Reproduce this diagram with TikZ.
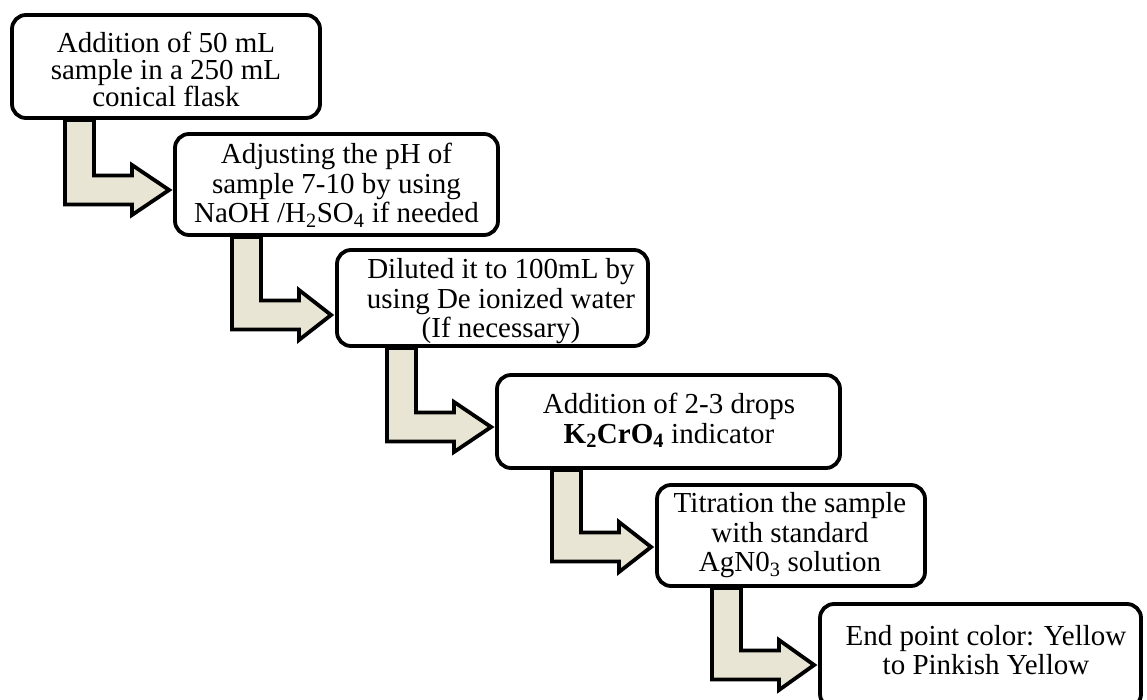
\documentclass[tikz,border=0pt]{standalone}
\usepackage{fontspec}
\setmainfont{Liberation Serif}
\usetikzlibrary{backgrounds,calc}
\definecolor{stepfill}{RGB}{233,229,213}
\tikzset{
  stepbox/.style={draw=black, line width=3.8pt, rounded corners=14pt, fill=white, inner sep=0pt},
  steptext/.style={align=center, inner sep=0pt, font=\fontsize{29}{29.5}\selectfont},
  flowarrow/.style={draw=black, line width=3.8pt, fill=stepfill, line join=miter},
}
% Bent block arrow: leaves the bottom of box #1, turns right and points at box #2.
% #3 = left edge of the vertical stem, #4 = drop of the tip below the centre of #2.
\newcommand\bentflow[4]{%
  \path[flowarrow] let \p1=(#1.south), \p2=(#2.west) in
    ({#3pt+2pt},{\y1}) -- ({#3pt+2pt},{\y2-#4pt-14.5pt})
    -- ({#3pt+69pt},{\y2-#4pt-14.5pt}) -- ({#3pt+69pt},{\y2-#4pt-25pt})
    -- ({\x2-4pt},{\y2-#4pt})
    -- ({#3pt+69pt},{\y2-#4pt+25pt}) -- ({#3pt+69pt},{\y2-#4pt+14.5pt})
    -- ({#3pt+31pt},{\y2-#4pt+14.5pt}) -- ({#3pt+31pt},{\y1}) -- cycle;
}
\begin{document}
\begin{tikzpicture}[x=1pt,y=-1pt]
\useasboundingbox (0,0) rectangle (1147,700);

% process steps
\node[stepbox, minimum width=308pt, minimum height=103pt] (b1) at (166,66.5) {};
\node[stepbox, minimum width=323pt, minimum height=101pt] (b2) at (336.5,184.5) {};
\node[stepbox, minimum width=311pt, minimum height=96pt] (b3) at (492.5,298) {};
\node[stepbox, minimum width=343pt, minimum height=93pt] (b4) at (668.5,421.5) {};
\node[stepbox, minimum width=268pt, minimum height=101pt] (b5) at (791,535.5) {};
\node[stepbox, minimum width=321pt, minimum height=104pt] (b6) at (980.5,656) {};

\node[steptext, font=\fontsize{29}{26.5}\selectfont] (t1) at (166,69.6)
  {Addition of 50 mL\\sample in a 250 mL\\conical flask};
\node[steptext] (t2) at (336.5,185.5)
  {Adjusting the pH of\\sample 7-10 by using\\NaOH /H\textsubscript{2}SO\textsubscript{4} if needed};
\node[steptext] (t3) at (501,301.5)
  {Diluted it to 100mL by\\using De ionized water\\(If necessary)};
\node[steptext] (t4) at (669,420.5)
  {Addition of 2-3 drops\\\textbf{K\textsubscript{2}CrO\textsubscript{4}} indicator};
\node[steptext] (t5) at (790,535.5)
  {Titration the sample\\with standard\\AgN0\textsubscript{3} solution};
\node[steptext] (t6) at (986,650)
  {End point color: Yellow\\to Pinkish Yellow};

% connecting arrows, behind the boxes
\begin{scope}[on background layer]
  \fill[white] (0,0) rectangle (1147,700);
  \bentflow{b1}{b2}{63}{5.5}
  \bentflow{b2}{b3}{230}{17}
  \bentflow{b3}{b4}{385}{5.5}
  \bentflow{b4}{b5}{550}{11.5}
  \bentflow{b5}{b6}{710}{9}
\end{scope}
\end{tikzpicture}
\end{document}
